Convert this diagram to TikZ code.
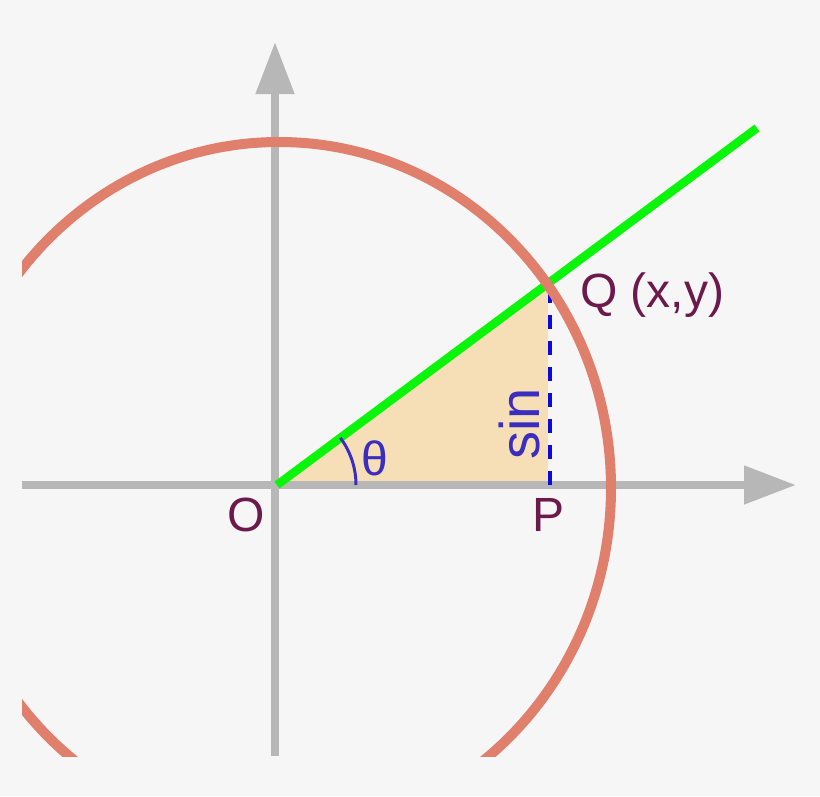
\documentclass[tikz,border=0pt]{standalone}
\usepackage{fontspec}
\setmainfont{Liberation Sans}
\usetikzlibrary{arrows.meta}
\definecolor{bgc}{HTML}{F6F6F6}
\definecolor{axisc}{HTML}{B7B7B7}
\definecolor{circc}{HTML}{DF7F6C}
\definecolor{linec}{HTML}{0AF50A}
\definecolor{fillc}{HTML}{F6DEB7}
\definecolor{dashc}{HTML}{0A0AE0}
\definecolor{anglec}{HTML}{3B2DBE}
\definecolor{labc}{HTML}{6C1A4C}
\tikzset{
  axis/.style={draw=axisc, line width=8pt, -{Triangle[length=52pt,width=37pt]}},
  unitcirc/.style={draw=circc, line width=10pt},
  ray/.style={draw=linec, line width=8.5pt},
  sinline/.style={draw=dashc, line width=3.5pt, dash pattern=on 14pt off 12pt},
  anglearc/.style={draw=anglec, line width=3pt},
  lab/.style={text=labc, font=\fontsize{48}{48}\selectfont, inner sep=0pt},
  blab/.style={text=anglec, font=\fontsize{48}{48}\selectfont, inner sep=0pt}
}
\begin{document}
\begin{tikzpicture}[x=1pt,y=-1pt]
\fill[bgc] (0,0) rectangle (820,796);
\useasboundingbox (0,0) rectangle (820,796);
\coordinate (O) at (277,485);
\coordinate (P) at (548,485);
\coordinate (Q) at (548,283.5);
\coordinate (E) at (757,128);
\coordinate (xl) at (22,485);
\coordinate (xr) at (796,485);
\coordinate (yb) at (275,756);
\coordinate (yt) at (275,42);
\coordinate (C) at (279,488);
% triangle
\fill[fillc] (O) -- (Q) -- (P) -- cycle;
% axes
\draw[axis] (xl) -- (xr);
\draw[axis] (yb) -- (yt);
% ray
\draw[ray] (O) -- (E);
% sin line
\draw[sinline] ([xshift=2pt]P) -- ([xshift=2pt]Q);
% angle arc
\draw[anglearc] ([xshift=79pt]O) arc[start angle=0, end angle=36.7, radius=79pt];
% circle
\begin{scope}
\clip (22,0) rectangle (820,756);
\draw[unitcirc] (C) ellipse[x radius=332pt, y radius=346pt];
\end{scope}
% labels
\node[lab] (lO) at (246,515) {O};
\node[lab] (lP) at (549,515) {P};
\node[lab, anchor=base west] (lQ) at (580,307) {Q (x,y)};
\node[blab] (lT) at (375,458) {θ};
\node[blab, rotate=90, anchor=base, font=\fontsize{56}{56}\selectfont] (lS) at (539,424) {sin};
\end{tikzpicture}
\end{document}
